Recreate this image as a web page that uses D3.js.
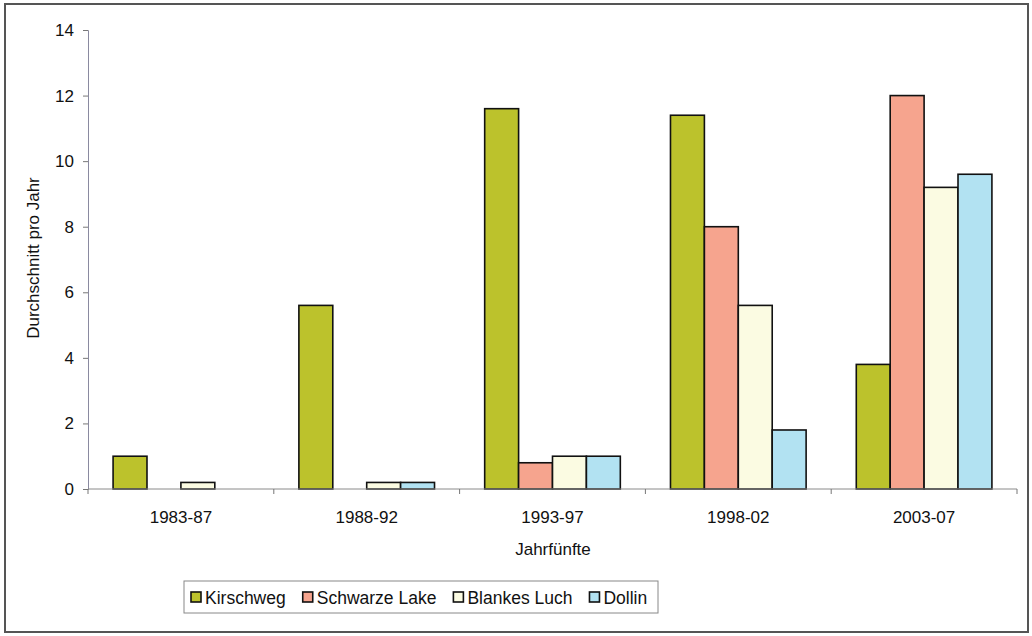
<!DOCTYPE html>
<html><head><meta charset="utf-8">
<script src="https://cdn.jsdelivr.net/npm/d3@7"></script>
<style>body{margin:0;background:#fff}svg{display:block}text{font-family:"Liberation Sans",Arial,sans-serif;fill:#111}</style>
</head><body><svg id="c" width="1032" height="636"></svg>
<script>
const categories = ["1983-87","1988-92","1993-97","1998-02","2003-07"];
const seriesNames = ["Kirschweg","Schwarze Lake","Blankes Luch","Dollin"];
const seriesColors = ["#bcc22c","#f6a48e","#fbfbe2","#b2e2f2"];
const kirschweg = [1.0, 5.6, 11.6, 11.4, 3.8];
const schwarzeLake = [0, 0, 0.8, 8.0, 12.0];
const blankesLuch = [0.2, 0.2, 1.0, 5.6, 9.2];
const dollin = [0, 0.2, 1.0, 1.8, 9.6];
const yTicks = [0,2,4,6,8,10,12,14];
const seriesValues = [kirschweg, schwarzeLake, blankesLuch, dollin];

const svg = d3.select("#c");
svg.append("rect").attr("x",5).attr("y",4).attr("width",1023).attr("height",628)
  .attr("fill","#fff").attr("stroke","#555").attr("stroke-width",2);

const pL=88, pR=1017, pT=30, pB=489;
const x = d3.scaleBand().domain(categories).range([pL,pR]).paddingInner(0.27).paddingOuter(0.135);
const xOuter = d3.scaleBand().domain(categories).range([pL,pR]);
const y = d3.scaleLinear().domain([0,14]).range([pB,pT]);
const xs = d3.scaleBand().domain(seriesNames).range([0,x.bandwidth()]);

// bars
seriesNames.forEach((s,si)=>{
  svg.append("g").selectAll("rect").data(categories.map((c,i)=>({c,v:seriesValues[si][i]})).filter(d=>d.v>0))
    .join("rect")
    .attr("x",d=>x(d.c)+xs(s)).attr("width",xs.bandwidth())
    .attr("y",d=>y(d.v)).attr("height",d=>y(0)-y(d.v))
    .attr("fill",seriesColors[si]).attr("stroke","#111").attr("stroke-width",1.6);
});

// y axis
const ya = svg.append("g").attr("transform",`translate(${pL},0)`)
  .call(d3.axisLeft(y).tickValues(yTicks).tickSize(5).tickPadding(9));
ya.select(".domain").attr("stroke","#8a8aa0");
ya.selectAll(".tick line").attr("stroke","#777");
ya.selectAll(".tick text").attr("font-size",17).attr("fill","#111").attr("font-family","Liberation Sans, Arial");

// x axis
const xa = svg.append("g").attr("transform",`translate(0,${pB})`);
xa.append("line").attr("x1",pL).attr("x2",pR).attr("y1",0).attr("y2",0).attr("stroke","#8a8a8a");
const tickPos = categories.map(c=>xOuter(c)).concat([pR]);
xa.selectAll("line.t").data(tickPos).join("line").attr("class","t")
  .attr("x1",d=>d).attr("x2",d=>d).attr("y1",0).attr("y2",5).attr("stroke","#777");
xa.selectAll("text").data(categories).join("text")
  .attr("x",d=>xOuter(d)+xOuter.bandwidth()/2).attr("y",34)
  .attr("text-anchor","middle").attr("font-size",17).text(d=>d);

// axis titles
svg.append("text").attr("x",553).attr("y",555).attr("text-anchor","middle").attr("font-size",17).text("Jahrfünfte");
svg.append("text").attr("transform","translate(39,258) rotate(-90)").attr("text-anchor","middle")
  .attr("font-size",17).text("Durchschnitt pro Jahr");

// legend
const lg = svg.append("g");
lg.append("rect").attr("x",184).attr("y",581).attr("width",474).attr("height",32)
  .attr("fill","#fff").attr("stroke","#888").attr("stroke-width",1);
let lx = 191;
seriesNames.forEach((s,i)=>{
  lg.append("rect").attr("x",lx).attr("y",592).attr("width",10).attr("height",10)
    .attr("fill",seriesColors[i]).attr("stroke","#111").attr("stroke-width",1.6);
  const t = lg.append("text").attr("x",lx+14).attr("y",604).attr("font-size",17.5).text(s);
  lx += 14 + t.node().getComputedTextLength() + 17;
});
</script></body></html>
